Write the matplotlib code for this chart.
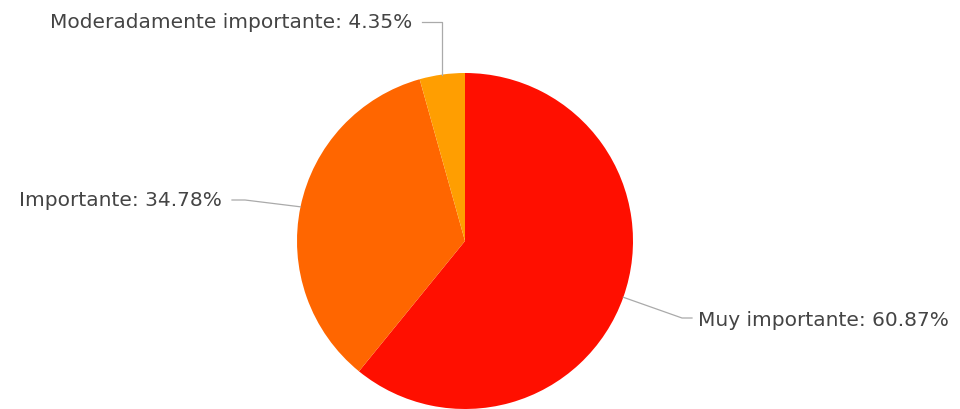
import numpy as np
import matplotlib.pyplot as plt

# Survey answers: how important is it
labels = ['Muy importante', 'Importante', 'Moderadamente importante']
shares = [60.87, 34.78, 4.35]
colors = ['#FF0F00', '#FF6600', '#FF9E01']

fig = plt.figure(figsize=(9.6, 4.09), dpi=100)
ax = fig.add_axes([0, 0, 1, 1])

cx, cy, r = 465, -241, 168
wedges, _ = ax.pie(shares, colors=colors, startangle=90, counterclock=False,
                   center=(cx, cy), radius=r, wedgeprops=dict(linewidth=0))

ax.set_xlim(0, 960)
ax.set_ylim(-409, 0)
ax.set_aspect('equal')
ax.axis('off')

# leader line routes: edge point -> bend -> text anchor
line_kw = dict(color='#aaaaaa', lw=0.9)
text_kw = dict(fontsize=14.5, color='#444444', va='center')

def edge_point(w):
    mid = np.deg2rad((w.theta1 + w.theta2) / 2)
    return cx + r * np.cos(mid), cy + r * np.sin(mid)

# Muy importante (right, lower)
ex, ey = edge_point(wedges[0])
ax.plot([ex, 682, 692], [ey, -318, -318], **line_kw)
ax.text(698, -320, f'{labels[0]}: {shares[0]:.2f}%', ha='left', **text_kw)

# Importante (left)
ex, ey = edge_point(wedges[1])
ax.plot([ex, 245, 232], [ey, -200, -200], **line_kw)
ax.text(222, -201, f'{labels[1]}: {shares[1]:.2f}%', ha='right', **text_kw)

# Moderadamente importante (top)
ex, ey = edge_point(wedges[2])
ax.plot([ex, ex, 422], [ey, -22, -22], **line_kw)
ax.text(412, -22, f'{labels[2]}: {shares[2]:.2f}%', ha='right', **text_kw)

fig.savefig('out.png', dpi=100)
